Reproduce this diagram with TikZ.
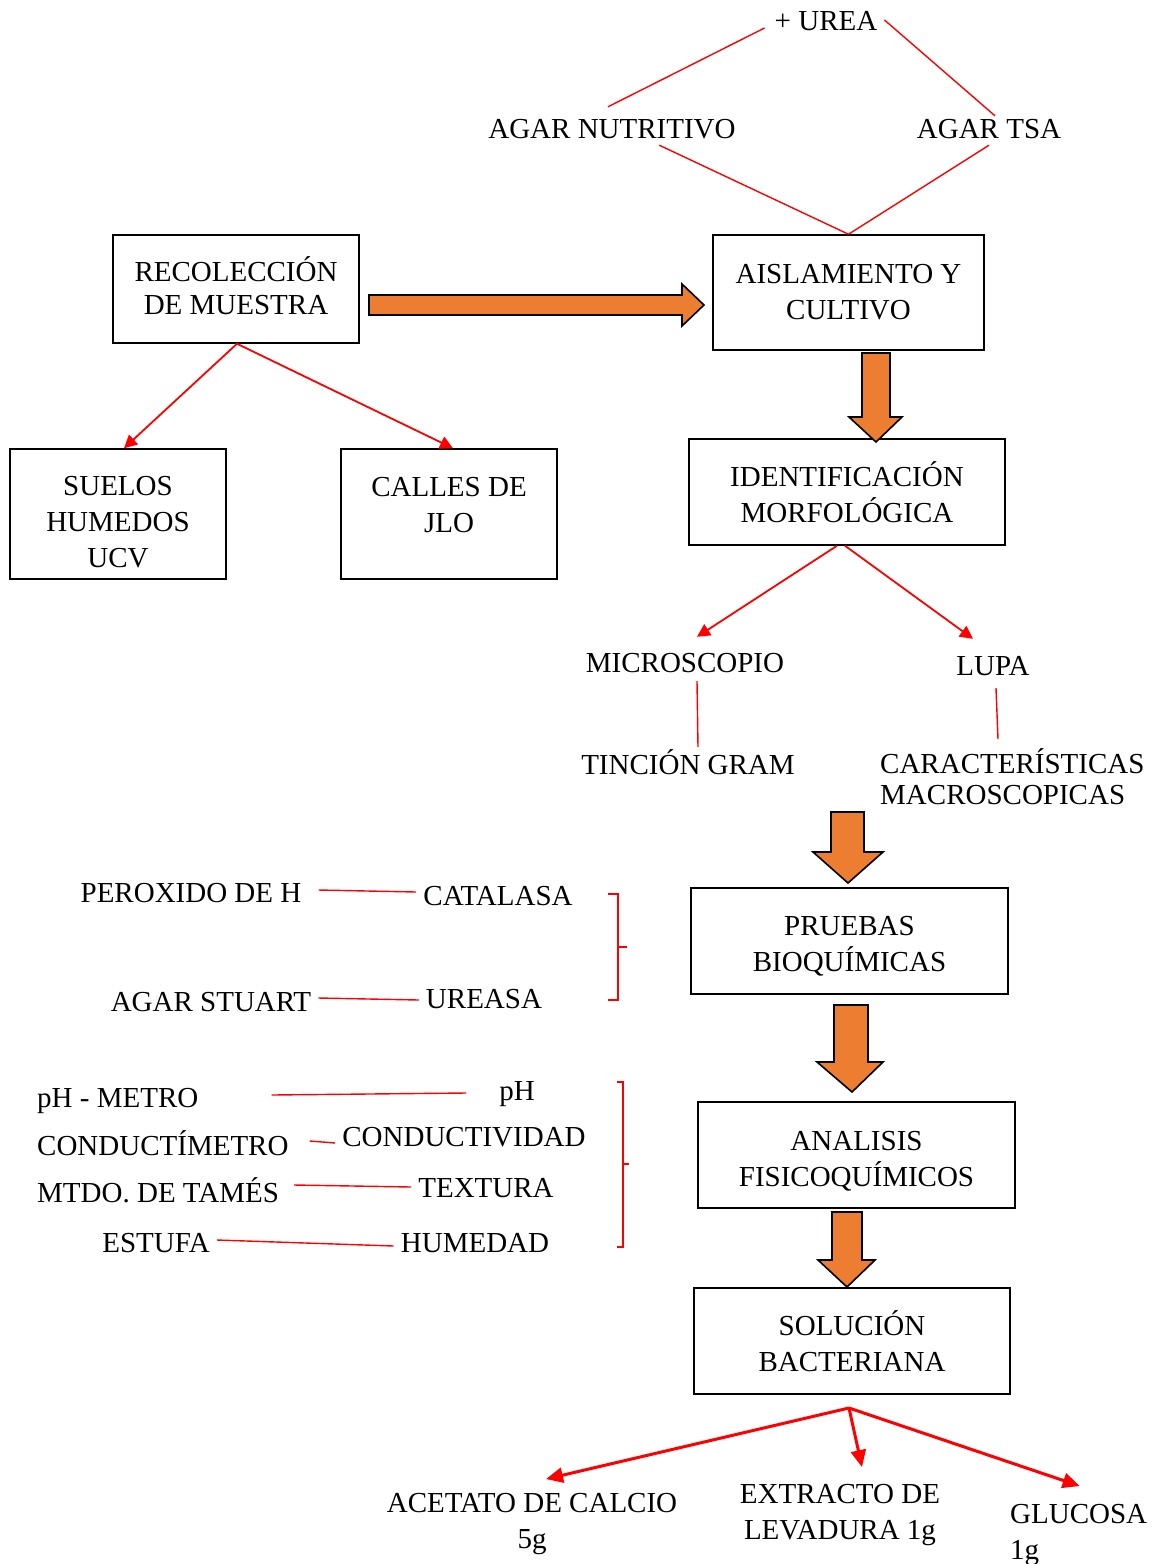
\documentclass[tikz,border=0pt]{standalone}
\usepackage{fontspec}
\setmainfont{Liberation Serif}
\usepackage{tikz}
\usetikzlibrary{arrows.meta}
\usepackage{xcolor}
\definecolor{blockorange}{HTML}{ED7D31}

\tikzset{
  box/.style={draw, line width=1.5pt, align=center, inner sep=0pt},
  lbl/.style={inner sep=7pt, text height=20pt, text depth=0pt},
  multilbl/.style={inner sep=7pt, align=center},
  redline/.style={red, line width=1.4pt},
  redarrow/.style={red, line width=1.8pt, -{Triangle[length=13pt,width=13pt]}},
  boldarrow/.style={red, line width=3pt, -{Triangle[length=17pt,width=15pt]}},
  blockarrow/.style={fill=blockorange, draw=black, line width=1.6pt, line join=miter},
  brace/.style={red, line width=2.2pt}
}

\begin{document}
\begin{tikzpicture}[x=1pt,y=-1pt,font=\fontsize{29}{36}\selectfont]
\useasboundingbox (0,0) rectangle (1156,1564);

% boxes
\node[box, minimum width=246pt, minimum height=108pt] (recol) at (236,289) {RECOLECCIÓN\\[-3pt]DE MUESTRA\rule[-6pt]{0pt}{0pt}};
\node[box, minimum width=271pt, minimum height=115pt] (aisl) at (848.5,292.5) {AISLAMIENTO Y\\CULTIVO};
\node[box, minimum width=216pt, minimum height=130pt] (suelos) at (118,514) {\rule{0pt}{35pt}SUELOS\\HUMEDOS\\UCV};
\node[box, minimum width=216pt, minimum height=130pt] (calles) at (449,514) {CALLES DE\\JLO\rule[-18pt]{0pt}{0pt}};
\node[box, minimum width=316pt, minimum height=106pt] (ident) at (847,492) {IDENTIFICACIÓN\\MORFOLÓGICA};
\node[box, minimum width=317pt, minimum height=106pt] (pruebas) at (849.5,941) {\rule{0pt}{29pt}PRUEBAS\\BIOQUÍMICAS};
\node[box, minimum width=317pt, minimum height=106pt] (analisis) at (856.5,1155) {\rule{0pt}{31pt}ANALISIS\\FISICOQUÍMICOS};
\node[box, minimum width=316pt, minimum height=106pt] (sol) at (852,1341) {SOLUCIÓN\\BACTERIANA};

% labels
\node[lbl] (urea) at (826,20) {+ UREA};
\node[lbl] (agarnut) at (612,128) {AGAR NUTRITIVO};
\node[lbl] (agartsa) at (989,128) {AGAR TSA};
\node[lbl] (micro) at (685,662) {MICROSCOPIO};
\node[lbl] (lupa) at (993,665) {LUPA};
\node[lbl] (tincion) at (688,764) {TINCIÓN GRAM};
\node[multilbl, align=left, anchor=north west] (caract) at (873,741) {CARACTERÍSTICAS\\[-5pt]MACROSCOPICAS};

\node[lbl] (perox) at (191,892) {PEROXIDO DE H};
\node[lbl] (catalasa) at (498,895) {CATALASA};
\node[lbl] (stuart) at (211,1001) {AGAR STUART};
\node[lbl] (ureasa) at (484,998) {UREASA};

\node[lbl, anchor=west] (phmetro) at (30,1097) {pH - METRO};
\node[lbl] (ph) at (517,1090) {pH};
\node[lbl, anchor=west] (conduct) at (30,1145) {CONDUCTÍMETRO};
\node[lbl] (conductiv) at (464,1136) {CONDUCTIVIDAD};
\node[lbl, anchor=west] (tames) at (30,1192) {MTDO. DE TAMÉS};
\node[lbl] (textura) at (486,1187) {TEXTURA};
\node[lbl] (estufa) at (156,1242) {ESTUFA};
\node[lbl] (humedad) at (475,1242) {HUMEDAD};

\node[multilbl] (acetato) at (532,1524) {ACETATO DE CALCIO\\5g};
\node[multilbl] (extracto) at (840,1515) {EXTRACTO DE\\LEVADURA 1g};
\node[multilbl, align=left, anchor=north west] (glucosa) at (1003,1497) {GLUCOSA\\1g};

% thin red links
\draw[redline] ([xshift=-3pt,yshift=-8pt]urea.west) -- ([xshift=-4pt,yshift=4pt]agarnut.north);
\draw[redline] (urea.east) -- ([xshift=6pt,yshift=-5pt]agartsa.north);
\draw[redline] (agarnut.-20) -- (aisl.north);
\draw[redline] (agartsa.south) -- (aisl.north);
\draw[redline] ([xshift=12pt,yshift=-2pt]micro.south) -- ([xshift=10pt]tincion.north);
\draw[redline] ([xshift=3pt,yshift=-6pt]lupa.south) -- ([xshift=125pt,yshift=2pt]caract.north west);
\draw[redline] ([xshift=10pt,yshift=2pt]perox.east) -- ([yshift=3pt]catalasa.west);
\draw[redline] ([yshift=3pt]stuart.east) -- ([yshift=-2pt]ureasa.west);
\draw[redline] ([xshift=66pt,yshift=2pt]phmetro.east) -- ([xshift=-26pt,yshift=-3pt]ph.west);
\draw[redline] ([xshift=14pt,yshift=4pt]conduct.east) -- ([yshift=-7pt]conductiv.west);
\draw[redline] ([xshift=8pt,yshift=7pt]tames.east) -- (textura.west);
\draw[redline] ([yshift=2pt]estufa.east) -- ([yshift=-4pt]humedad.west);

% braces
\draw[brace] (608,894) -- (618,894) -- (618,1000) -- (608,1000);
\draw[brace] (618,947) -- (627,947);
\draw[brace] (617,1082) -- (623,1082) -- (623,1247) -- (617,1247);
\draw[brace] (623,1164) -- (629,1164);

% red arrows
\draw[redarrow] ([xshift=1pt]recol.south) -- ([xshift=6pt]suelos.north);
\draw[redarrow] ([xshift=1pt]recol.south) -- ([xshift=4pt]calles.north);
\draw[redarrow] ([xshift=-10pt]ident.south) -- ([xshift=12pt,yshift=8pt]micro.north);
\draw[redarrow] ([xshift=-2pt]ident.south) -- ([xshift=-20pt,yshift=9pt]lupa.north);

\coordinate (fork) at (849,1408);
\draw[boldarrow] (fork) -- ([xshift=14pt,yshift=7pt]acetato.north);
\draw[boldarrow] (fork) -- ([xshift=22pt,yshift=10pt]extracto.north);
\draw[boldarrow] (fork) -- ([xshift=1pt,yshift=11pt]glucosa.north);

% orange block arrows
\draw[blockarrow] (369,295) -- (682,295) -- (682,284) -- (704,305) -- (682,326) -- (682,315) -- (369,315) -- cycle;
\draw[blockarrow] (862,353) -- (890,353) -- (890,417) -- (902,417) -- (876,442) -- (849,417) -- (862,417) -- cycle;
\draw[blockarrow] (831,812) -- (864,812) -- (864,852) -- (883,852) -- (848,883) -- (813,852) -- (831,852) -- cycle;
\draw[blockarrow] (834,1005) -- (868,1005) -- (868,1062) -- (883,1062) -- (852,1092) -- (817,1062) -- (834,1062) -- cycle;
\draw[blockarrow] (832,1212) -- (862,1212) -- (862,1260) -- (875,1260) -- (847,1287) -- (818,1260) -- (832,1260) -- cycle;
\end{tikzpicture}
\end{document}
